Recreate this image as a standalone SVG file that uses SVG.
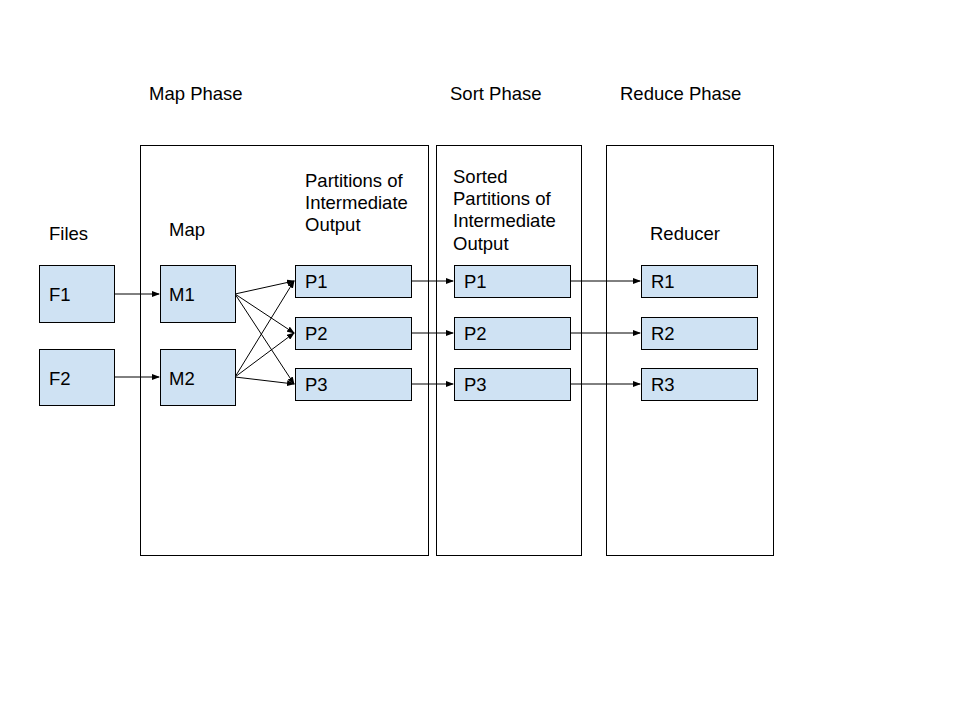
<svg xmlns="http://www.w3.org/2000/svg" width="960" height="720" viewBox="0 0 960 720">
<style>
text{font-family:"Liberation Sans",Arial,sans-serif;font-size:18.5px;fill:#000}
.n{fill:#cfe2f3;stroke:#000;stroke-width:1}
.ph{fill:none;stroke:#000;stroke-width:1}
.c{stroke:#000;stroke-width:1;fill:none;marker-end:url(#a)}
</style>
<defs>
<marker id="a" markerWidth="8" markerHeight="6" refX="7" refY="3" orient="auto" markerUnits="userSpaceOnUse">
<path d="M0,0 L8,3 L0,6 Z" fill="#000"/>
</marker>
</defs>
<rect width="960" height="720" fill="#fff"/>
<g id="phases">
<rect class="ph" x="140.5" y="145.5" width="288" height="410"/>
<rect class="ph" x="436.5" y="145.5" width="145" height="410"/>
<rect class="ph" x="606.5" y="145.5" width="167" height="410"/>
<text x="149" y="100">Map Phase</text>
<text x="450" y="100">Sort Phase</text>
<text x="620" y="100">Reduce Phase</text>
</g>
<g id="labels">
<text x="49" y="240">Files</text>
<text x="169" y="236">Map</text>
<text x="305" y="187">Partitions of</text>
<text x="305" y="209">Intermediate</text>
<text x="305" y="231">Output</text>
<text x="453" y="183">Sorted</text>
<text x="453" y="205">Partitions of</text>
<text x="453" y="227">Intermediate</text>
<text x="453" y="250">Output</text>
<text x="650" y="240">Reducer</text>
</g>
<g id="connectors">
<line class="c" x1="115" y1="294" x2="159" y2="294"/>
<line class="c" x1="115" y1="377" x2="159" y2="377"/>
<line class="c" x1="235" y1="294" x2="294" y2="281"/>
<line class="c" x1="235" y1="294" x2="294" y2="333"/>
<line class="c" x1="235" y1="294" x2="294" y2="384"/>
<line class="c" x1="235" y1="377" x2="294" y2="281"/>
<line class="c" x1="235" y1="377" x2="294" y2="333"/>
<line class="c" x1="235" y1="377" x2="294" y2="384"/>
<line class="c" x1="411" y1="281" x2="453" y2="281"/>
<line class="c" x1="411" y1="333" x2="453" y2="333"/>
<line class="c" x1="411" y1="384" x2="453" y2="384"/>
<line class="c" x1="570" y1="281" x2="640" y2="281"/>
<line class="c" x1="570" y1="333" x2="640" y2="333"/>
<line class="c" x1="570" y1="384" x2="640" y2="384"/>
</g>
<g id="F1"><rect class="n" x="39.5" y="265.5" width="75" height="57"/><text x="49" y="301">F1</text></g>
<g id="F2"><rect class="n" x="39.5" y="349.5" width="75" height="56"/><text x="49" y="385">F2</text></g>
<g id="M1"><rect class="n" x="160.5" y="265.5" width="75" height="57"/><text x="169" y="301">M1</text></g>
<g id="M2"><rect class="n" x="160.5" y="349.5" width="75" height="56"/><text x="169" y="385">M2</text></g>
<g id="P1"><rect class="n" x="295.5" y="265.5" width="116" height="32"/><text x="305" y="288">P1</text></g>
<g id="P2"><rect class="n" x="295.5" y="317.5" width="116" height="32"/><text x="305" y="340">P2</text></g>
<g id="P3"><rect class="n" x="295.5" y="368.5" width="116" height="32"/><text x="305" y="391">P3</text></g>
<g id="SP1"><rect class="n" x="454.5" y="265.5" width="116" height="32"/><text x="464" y="288">P1</text></g>
<g id="SP2"><rect class="n" x="454.5" y="317.5" width="116" height="32"/><text x="464" y="340">P2</text></g>
<g id="SP3"><rect class="n" x="454.5" y="368.5" width="116" height="32"/><text x="464" y="391">P3</text></g>
<g id="R1"><rect class="n" x="641.5" y="265.5" width="116" height="32"/><text x="651" y="288">R1</text></g>
<g id="R2"><rect class="n" x="641.5" y="317.5" width="116" height="32"/><text x="651" y="340">R2</text></g>
<g id="R3"><rect class="n" x="641.5" y="368.5" width="116" height="32"/><text x="651" y="391">R3</text></g>
</svg>
